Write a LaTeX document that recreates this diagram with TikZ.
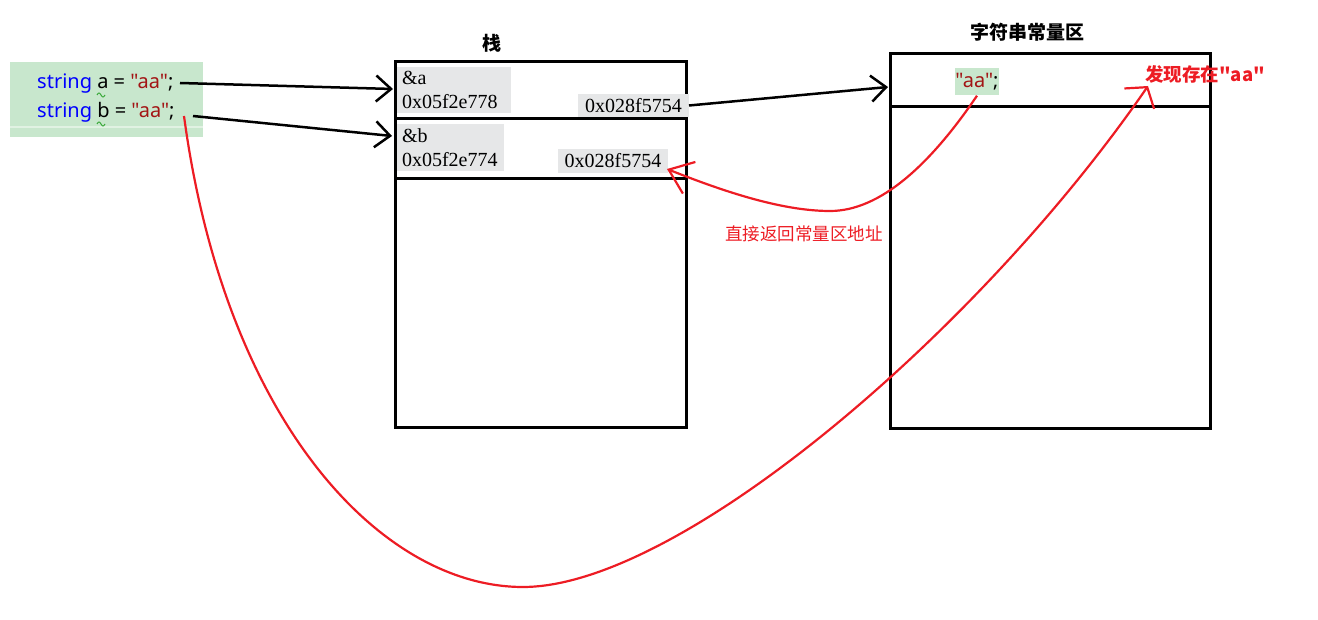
\documentclass[tikz,border=0pt]{standalone}
\usepackage{fontspec}
\setmainfont{Noto Sans}[Ligatures=TeXOff]
\newfontfamily\cjk{Noto Sans CJK SC}[Ligatures=TeXOff]
\newfontfamily\addrfont{Liberation Serif}
\usetikzlibrary{arrows.meta,positioning}

\definecolor{codebg}{RGB}{200,231,205}
\definecolor{addrbg}{RGB}{230,231,232}
\definecolor{kwblue}{RGB}{0,0,255}
\definecolor{strred}{RGB}{163,21,21}
\definecolor{inkred}{RGB}{237,28,36}
\definecolor{squig}{RGB}{60,170,60}

\tikzset{
  memframe/.style={draw,line width=3pt,anchor=north west,inner sep=0pt,outer sep=0pt},
  divider/.style={line width=3pt},
  addrbox/.style={fill=addrbg,anchor=north west,inner xsep=5pt,inner ysep=0pt,outer sep=0pt,
    font=\addrfont\fontsize{20}{24}\selectfont,align=left},
  codetxt/.style={inner sep=0pt,anchor=west,font=\fontsize{20}{20}\selectfont},
  title/.style={inner sep=0pt,font=\cjk\bfseries\fontsize{19}{19}\selectfont},
  redlabel/.style={inner sep=0pt,text=inkred,font=\cjk\fontsize{17.5}{17.5}\selectfont},
  ptr/.style={line width=2.5pt,-{Straight Barb[length=15pt,width=26pt,line width=2.5pt]}},
  inkline/.style={inkred,line width=2.2pt},
}

\begin{document}
\begin{tikzpicture}[x=1pt,y=-1pt]
\useasboundingbox (0,0) rectangle (1318,620);

% code
\node[fill=codebg,anchor=north west,inner sep=0pt,minimum width=193,minimum height=75] (code) at (10,62) {};
\draw[white!45!codebg,line width=1.5pt] (10,127)--(203,127);
\node[codetxt] (linea) at (37,84) {{\color{kwblue}string} a = {\color{strred}"aa"};};
\node[codetxt] (lineb) at (37,112) {{\color{kwblue}string} b = {\color{strred}"aa"};};
\draw[squig,line width=1pt] (97,95) sin (99,93) cos (101,95) sin (103,97) cos (105,95);
\draw[squig,line width=1pt] (97,124) sin (99,122) cos (101,124) sin (103,126) cos (105,124);

% stack
\node[title] (stacktitle) at (492,43) {栈};
\node[memframe,minimum width=291,minimum height=365] (stack) at (395,62) {};
\draw[divider] (395,119)--(686,119);
\draw[divider] (395,179)--(686,179);
\node[addrbox,minimum width=114,minimum height=46,text width=104] (cella) at (397,67) {\&a\\0x05f2e778};
\node[addrbox,minimum width=111,minimum height=23] (vala) at (578,94) {0x028f5754};
\node[addrbox,minimum width=107,minimum height=47,text width=97] (cellb) at (397,124) {\&b\\0x05f2e774};
\node[addrbox,minimum width=110,minimum height=24] (valb) at (558,149) {0x028f5754};

% constant pool
\node[title] (pooltitle) at (1027,32) {字符串常量区};
\node[memframe,minimum width=320,minimum height=374] (pool) at (890,54) {};
\draw[divider] (890,107)--(1210,107);
\node[fill=codebg,inner sep=0pt,minimum width=42,minimum height=27,font=\fontsize{20}{20}\selectfont] (aalit) at (977,82) {{\color{strred}"aa"};};

% labels
\node[redlabel,font=\cjk\bfseries\fontsize{18.5}{18.5}\selectfont] (found) at (1205,74) {发现存在"aa"};
\node[redlabel] (direct) at (804,234) {直接返回常量区地址};

% pointers
\coordinate (semia) at (180,83);
\coordinate (semib) at (193,116);
\coordinate (tipa) at (393,89);
\coordinate (tipb) at (392,136);
\coordinate (tippool) at (888,87);
\draw[ptr] (semia)--(tipa);
\draw[ptr] (semib)--(tipb);
\draw[ptr] (vala.east)--(tippool);

% red strokes
\coordinate (startb) at (184,116);
\coordinate (low) at (523,587);
\coordinate (foundtip) at (1148,86);
\coordinate (dip) at (830,211);
\coordinate (backtip) at (667,169);
\draw[inkline,-{Straight Barb[length=14pt,width=36pt,line width=2.2pt]}] (startb) .. controls (225,420) and (380,587) .. (low) .. controls (680,587) and (980,330) .. (foundtip);
\draw[inkline,-{Straight Barb[length=22pt,width=34pt,line width=2.2pt]}] (aalit.south) .. controls (930,165) and (880,211) .. (dip) .. controls (780,211) and (720,190) .. (backtip);

\end{tikzpicture}
\end{document}
